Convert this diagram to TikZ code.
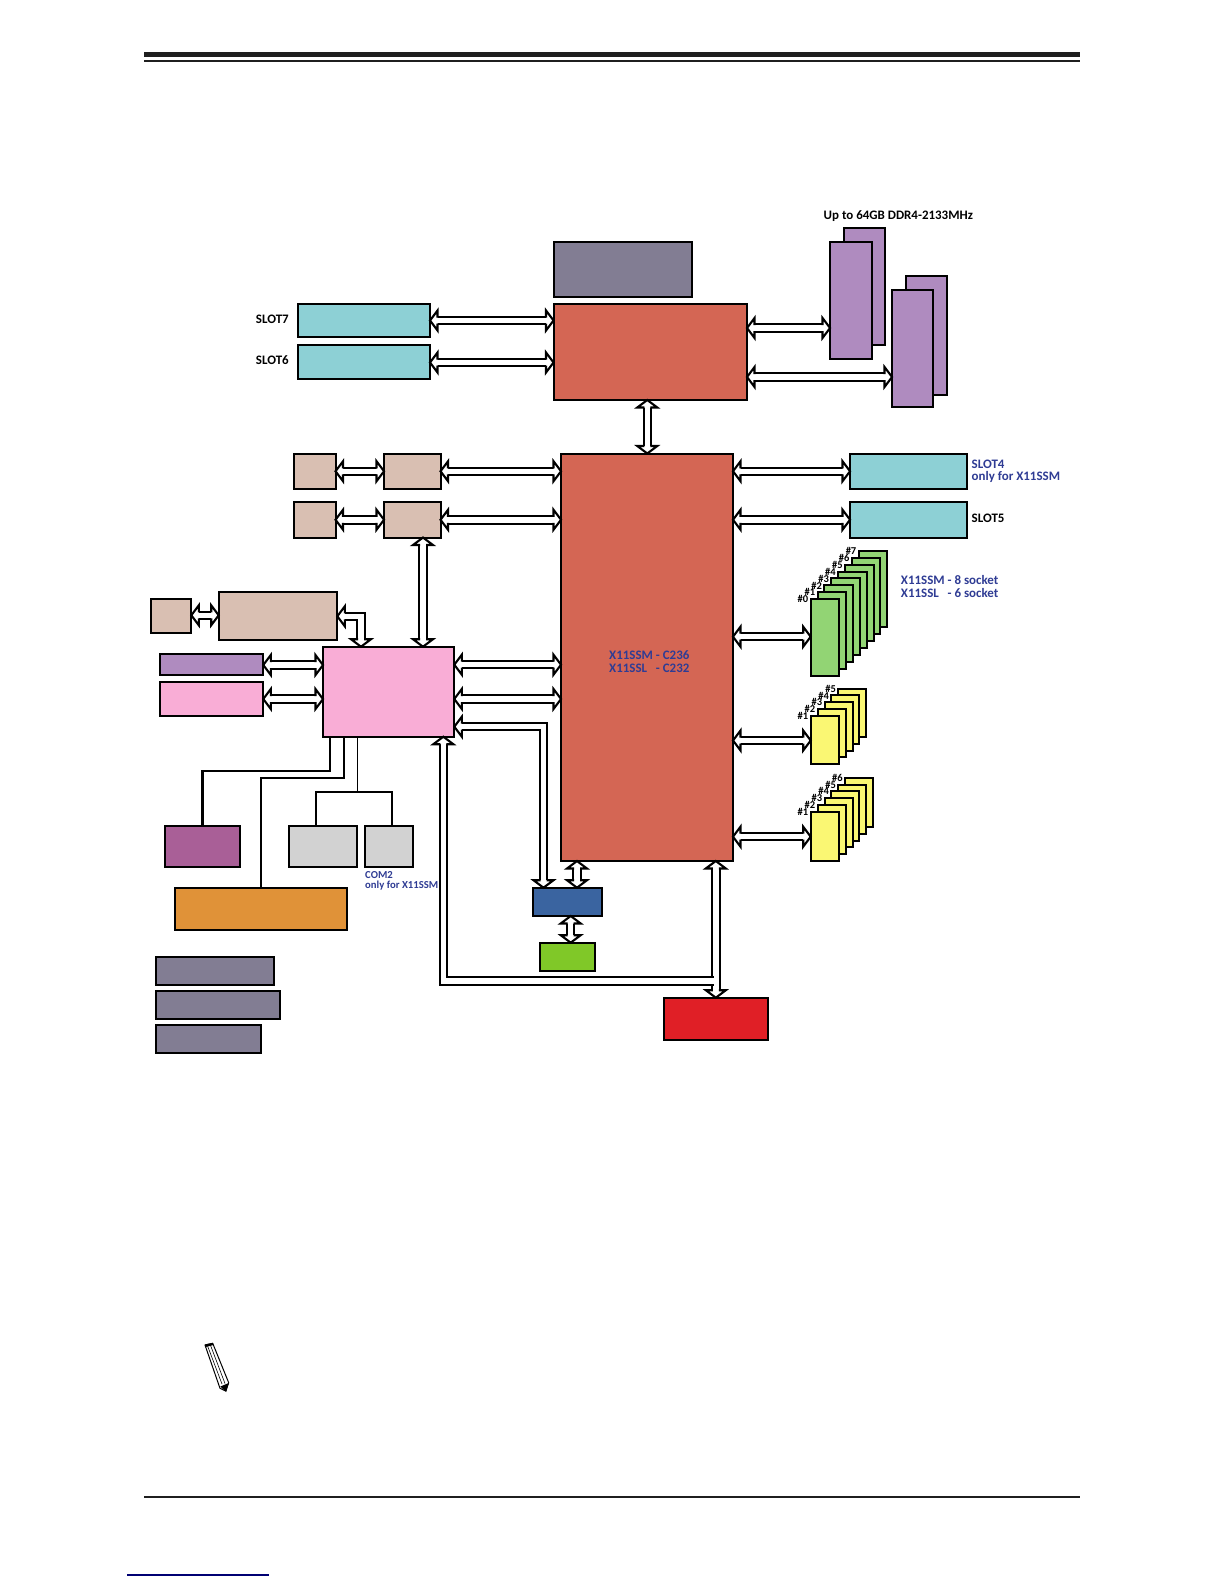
\documentclass[tikz,border=0pt]{standalone}
\usepackage{fontspec}
\setmainfont{Carlito}
\usetikzlibrary{arrows.meta,calc}
\definecolor{cRed}{HTML}{D46654}
\definecolor{cTeal}{HTML}{8DD0D5}
\definecolor{cTan}{HTML}{D9BFB2}
\definecolor{cSlate}{HTML}{827D93}
\definecolor{cViolet}{HTML}{AF8BBF}
\definecolor{cPink}{HTML}{F9ADD6}
\definecolor{cPlum}{HTML}{A95F97}
\definecolor{cGray}{HTML}{D2D2D2}
\definecolor{cOrange}{HTML}{E09238}
\definecolor{cBlue}{HTML}{3A64A0}
\definecolor{cLime}{HTML}{80C828}
\definecolor{cScarlet}{HTML}{E01F26}
\definecolor{cLeaf}{HTML}{92D474}
\definecolor{cYellow}{HTML}{FAF773}
\definecolor{cInk}{HTML}{2F3C94}
\pgfdeclarearrow{
  name=Blk,
  cache=false,
  setup code={
    \pgfarrowssettipend{0pt}
    \pgfarrowssetlineend{-7pt}
    \pgfarrowssetbackend{-8pt}
    \pgfarrowssetvisualbackend{-7pt}
    \pgfarrowshullpoint{0pt}{0pt}
    \pgfarrowshullpoint{-8pt}{11pt}
    \pgfarrowshullpoint{-8pt}{-11pt}
  },
  drawing code={
    \pgfsetinnerlinewidth{0pt}
    \pgfsetlinewidth{2.1pt}
    \pgfsetdash{}{0pt}
    \pgfsetmiterjoin
    \pgfsetbuttcap
    \pgfsetfillcolor{white}
    \pgfpathmoveto{\pgfqpoint{-7.5pt}{4pt}}
    \pgfpathlineto{\pgfqpoint{-7.5pt}{10pt}}
    \pgfpathlineto{\pgfqpoint{0pt}{0pt}}
    \pgfpathlineto{\pgfqpoint{-7.5pt}{-10pt}}
    \pgfpathlineto{\pgfqpoint{-7.5pt}{-4pt}}
    \pgfpathclose
    \pgfusepathqfill
    \pgfpathmoveto{\pgfqpoint{-7.5pt}{3pt}}
    \pgfpathlineto{\pgfqpoint{-7.5pt}{10pt}}
    \pgfpathlineto{\pgfqpoint{0pt}{0pt}}
    \pgfpathlineto{\pgfqpoint{-7.5pt}{-10pt}}
    \pgfpathlineto{\pgfqpoint{-7.5pt}{-3pt}}
    \pgfusepathqstroke
  }
}
\tikzset{
  box/.style={draw=black,line width=2pt,inner sep=0pt,outer sep=0pt},
  bus/.style={draw=black,line width=2pt,double=white,double distance=5.5pt,line join=miter,arrows={Blk-Blk}},
  busone/.style={draw=black,line width=2pt,double=white,double distance=5.5pt,line join=miter,arrows={Blk-}},
  wire/.style={draw=black,line width=2.1pt,line join=miter},
  thinwire/.style={draw=black,line width=1pt},
  blab/.style={inner sep=0pt,font=\fontsize{12.95pt}{14pt}\selectfont\bfseries,text=black},
  ilab/.style={inner sep=0pt,font=\fontsize{12.95pt}{12.95pt}\selectfont\bfseries,text=cInk,anchor=west},
  slab/.style={inner sep=0pt,font=\fontsize{10.7pt}{10.7pt}\selectfont\bfseries,text=cInk,anchor=west},
  nlab/.style={inner sep=0pt,font=\fontsize{10.5pt}{10.5pt}\selectfont\bfseries,text=black,anchor=center},
}
\newcommand{\bx}[6]{%
  \pgfmathsetmacro{\bxw}{#5-#3}\pgfmathsetmacro{\bxh}{#6-#4}%
  \pgfmathsetmacro{\bxx}{(#5+#3)/2}\pgfmathsetmacro{\bxy}{(#6+#4)/2}%
  \node[box,fill=#2,minimum width=\bxw pt,minimum height=\bxh pt] (#1) at (\bxx,\bxy) {};}
\begin{document}
\begin{tikzpicture}[x=1pt,y=-1pt]
\useasboundingbox (0,0) rectangle (1224,1584);
\fill[white] (0,0) rectangle (1224,1584);
% page rules
\fill[black!88] (144,52) rectangle (1080,57.3);
\fill[black!88] (144,60) rectangle (1080,62);
\fill[black!88] (144,1495.7) rectangle (1080,1498);
\fill[blue!45!black] (127,1574.4) rectangle (269,1575.8);
% boxes
\bx{cache}{cSlate}{553.5}{241.5}{692}{297}
\bx{cpu}{cRed}{553.5}{304}{747}{400}
\bx{slotA}{cTeal}{298}{304}{430}{337}
\bx{slotB}{cTeal}{298}{345}{430}{379}
\bx{dimmAb}{cViolet}{844}{228}{885}{345}
\bx{dimmAf}{cViolet}{830}{242}{872}{359}
\bx{dimmBb}{cViolet}{906}{276}{947}{395}
\bx{dimmBf}{cViolet}{892}{290}{933}{407}
\bx{pch}{cRed}{561}{453.5}{733}{861}
\bx{tanA}{cTan}{294}{453.5}{335.5}{489}
\bx{tanB}{cTan}{384}{453.5}{440.5}{489}
\bx{tanC}{cTan}{294}{502}{335.5}{537.5}
\bx{tanD}{cTan}{384}{502}{440.5}{537.5}
\bx{slotC}{cTeal}{850}{453.5}{966.5}{489}
\bx{slotD}{cTeal}{850}{502}{966.5}{537.5}
\bx{tanE}{cTan}{150.7}{599}{191.3}{633}
\bx{tanF}{cTan}{218.7}{592}{337.3}{640}
\bx{hub}{cPink}{323}{646.7}{454.3}{736.7}
\bx{vio}{cViolet}{160}{654}{263.3}{675}
\bx{rose}{cPink}{160}{682}{263.3}{716}
\bx{plum}{cPlum}{165}{826}{240}{867}
\bx{grayA}{cGray}{289}{826}{357.3}{867}
\bx{grayB}{cGray}{364.7}{826}{413.3}{867}
\bx{orange}{cOrange}{175}{888}{347}{930}
\bx{navy}{cBlue}{533}{887.7}{602.3}{916}
\bx{lime}{cLime}{539.7}{942.7}{595.3}{971}
\bx{scarlet}{cScarlet}{663.7}{997.7}{767.5}{1040}
\bx{slateA}{cSlate}{155.5}{956.5}{274}{985}
\bx{slateB}{cSlate}{155.5}{991}{280}{1019}
\bx{slateC}{cSlate}{155.5}{1025}{260.5}{1052.5}
% green module stack
\foreach \i in {7,6,...,0}{
  \pgfmathsetmacro{\ax}{810.7+6.86*\i}\pgfmathsetmacro{\ay}{599.3-6.94*\i}
  \pgfmathsetmacro{\bxa}{\ax+28.6}\pgfmathsetmacro{\bya}{\ay+76.7}
  \bx{g\i}{cLeaf}{\ax}{\ay}{\bxa}{\bya}
  \node[nlab] (gl\i) at ([xshift=-7.7pt]g\i.north west) {\#\i};
}
% yellow stack 1
\foreach \i in {5,4,...,1}{
  \pgfmathsetmacro{\ax}{810.7+6.9*(\i-1)}\pgfmathsetmacro{\ay}{715.7-6.75*(\i-1)}
  \pgfmathsetmacro{\bxa}{\ax+28}\pgfmathsetmacro{\bya}{\ay+48.3}
  \bx{y\i}{cYellow}{\ax}{\ay}{\bxa}{\bya}
  \node[nlab] (yl\i) at ([xshift=-7.7pt]y\i.north west) {\#\i};
}
% yellow stack 2
\foreach \i in {6,5,...,1}{
  \pgfmathsetmacro{\ax}{810.7+6.9*(\i-1)}\pgfmathsetmacro{\ay}{811.7-6.8*(\i-1)}
  \pgfmathsetmacro{\bxa}{\ax+28}\pgfmathsetmacro{\bya}{\ay+49.3}
  \bx{z\i}{cYellow}{\ax}{\ay}{\bxa}{\bya}
  \node[nlab] (zl\i) at ([xshift=-7.7pt]z\i.north west) {\#\i};
}
% bus arrows
\draw[bus] (slotA.east) -- (slotA.east -| cpu.west);
\draw[bus] ([yshift=-0.5pt]slotB.east) -- ([yshift=-0.5pt]slotB.east -| cpu.west);
\draw[bus] ([yshift=24pt]cpu.east) -- ([yshift=24pt]cpu.east -| dimmAf.west);
\draw[bus] ([yshift=-25pt]cpu.east) -- ([yshift=-25pt]cpu.east -| dimmBf.west);
\draw[bus] ([xshift=-3pt]cpu.south) -- ([xshift=-3pt]cpu.south |- pch.north);
\draw[bus] (tanA.east) -- (tanB.west);
\draw[bus] (tanC.east) -- (tanD.west);
\draw[bus] (tanB.east) -- (tanB.east -| pch.west);
\draw[bus] (tanD.east) -- (tanD.east -| pch.west);
\draw[bus] (slotC.west -| pch.east) -- (slotC.west);
\draw[bus] (slotD.west -| pch.east) -- (slotD.west);
\draw[bus] ([xshift=39pt]tanD.south west) -- ([xshift=39pt]tanD.south west |- hub.north);
\draw[bus] ([yshift=0.7pt]tanE.east) -- ([yshift=0.7pt]tanE.east -| tanF.west);
\draw[bus] (tanF.east |- 0,616.3) -- (361,616.3) -- (361,616.3 |- hub.north);
\draw[bus] ([yshift=-0.5pt]vio.east) -- ([yshift=-0.5pt]vio.east -| hub.west);
\draw[bus] (rose.east) -- (rose.east -| hub.west);
\draw[bus] (hub.east |- 0,664.7) -- (pch.west |- 0,664.7);
\draw[bus] (hub.east |- 0,699) -- (pch.west |- 0,699);
\draw[bus] (hub.east |- 0,726.7) -- (543.5,726.7) -- (543.5,726.7 |- navy.north);
\draw[bus] (pch.east |- 0,636.7) -- (g0.west |- 0,636.7);
\draw[bus] (pch.east |- 0,740.5) -- (y1.west |- 0,740.5);
\draw[bus] (pch.east |- 0,836.7) -- (z1.west |- 0,836.7);
\draw[bus] (577,861) -- (577,887.7);
\draw[bus] (570.7,916) -- (570.7,942.7);
\draw[bus] (715.8,861) -- (715.8,997.7);
\draw[busone] (443.3,736.7) -- (443.3,981) -- (713.6,981);
% plain lines
\draw[wire] ([xshift=7.3pt]hub.south west) -- ++(0,34.3) -| (plum.north);
\draw[wire] ([xshift=20.7pt]hub.south west) -- ++(0,41) -| (orange.north);
\coordinate (split) at (357.3,791.7);
\draw[thinwire] (hub.south -| split) -- (split);
\draw[wire] ([xshift=-7.3pt]grayA.north) |- (split) -| ([xshift=2.7pt]grayB.north);
% labels
\node[blab,anchor=east] (labSeven) at (289,319) {SLOT7};
\node[blab,anchor=east] (labSix) at (289,360) {SLOT6};
\node[blab,anchor=west] (labUp) at (823.5,216.5) {Up to 64GB DDR4-2133MHz};
\node[ilab] (labFour) at (971.5,464) {SLOT4};
\node[ilab] (labOnly) at (971.5,477) {only for X11SSM};
\node[blab,anchor=west] (labFive) at (971.5,518) {SLOT5};
\node[ilab] (labChipA) at (609,655.5) {X11SSM - C236};
\node[ilab] (labChipB) at (609,668) {X11SSL\ \ \ - C232};
\node[ilab] (labSockA) at (900.7,580) {X11SSM - 8 socket};
\node[ilab] (labSockB) at (900.7,592.7) {X11SSL\ \ \ - 6 socket};
\node[slab] (labCom) at (365,874.7) {COM2};
\node[slab] (labComB) at (365,885.5) {only for X11SSM};
% pencil
\draw[black,line width=1pt,line join=round,fill=white] (205,1345) -- (212.7,1343.3) -- (228.7,1382.7) -- (225.7,1391) -- (220,1388.3) -- cycle;
\fill[black] (220.3,1386.5) -- (228.8,1383) -- (226.2,1392) -- cycle;
\fill[black] (204.8,1344.5) -- (212.8,1342.8) -- (213.5,1345) -- (205.6,1347) -- cycle;
\draw[black,line width=0.6pt] (207.6,1346) -- (222,1384);
\draw[black,line width=0.6pt] (210.4,1345) -- (225,1383.5);
\end{tikzpicture}
\end{document}
